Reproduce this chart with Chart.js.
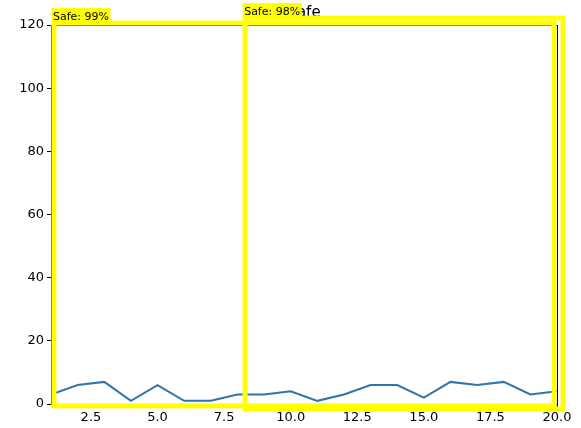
<!DOCTYPE html>
<html>
<head>
<meta charset="utf-8">
<script src="https://cdn.jsdelivr.net/npm/chart.js@4/dist/chart.umd.min.js"></script>
<style>
html,body{margin:0;padding:0;background:#fff;}
#wrap{width:581px;height:428px;position:relative;}
</style>
</head>
<body>
<div id="wrap"><canvas id="c" width="581" height="428"></canvas></div>
<script>
const xValues = [1,2,3,4,5,6,7,8,9,10,11,12,13,14,15,16,17,18,19,20];
const yValues = [3,6,7,1,6,1,1,3,3,4,1,3,6,6,2,7,6,7,3,4];
const xTickValues = [2.5,5,7.5,10,12.5,15,17.5,20];
const yTickValues = [0,20,40,60,80,100,120];
const titleText = 'Safe';
const boxLabels = ['Safe: 99%','Safe: 98%'];
const boxX0 = [1.11, 8.29];
const boxX1 = [19.89, 20.23];
const boxY0 = [-0.6, -1.6];
const boxY1 = [120.6, 122.2];

const overlay = {
  id:'overlay',
  afterDraw(chart){
    const ctx = chart.ctx, xs = chart.scales.x, ys = chart.scales.y, ca = chart.chartArea;
    ctx.save();
    // frame (all four spines)
    ctx.strokeStyle = '#000'; ctx.lineWidth = 1;
    ctx.strokeRect(Math.round(ca.left)+0.5, Math.round(ca.top)+0.5, Math.round(ca.right-ca.left), Math.round(ca.bottom-ca.top));
    // title
    ctx.fillStyle = '#000';
    ctx.font = '15px "DejaVu Sans"';
    ctx.textAlign = 'center'; ctx.textBaseline = 'alphabetic';
    ctx.fillText(titleText, (ca.left+ca.right)/2, 17);
    // boxes
    for (let i=0;i<boxLabels.length;i++){
      const l = xs.getPixelForValue(boxX0[i]), r = xs.getPixelForValue(boxX1[i]);
      const t = ys.getPixelForValue(boxY1[i]), b = ys.getPixelForValue(boxY0[i]);
      ctx.strokeStyle = '#ffff00'; ctx.lineWidth = 5;
      ctx.strokeRect(l, t, r-l, b-t);
      ctx.font = '11px "DejaVu Sans"';
      const w = ctx.measureText(boxLabels[i]).width + 3;
      ctx.fillStyle = '#ffff00';
      ctx.fillRect(l-2.5, t-15, w, 15);
      ctx.fillStyle = '#000';
      ctx.textAlign = 'left'; ctx.textBaseline = 'alphabetic';
      ctx.fillText(boxLabels[i], l-1, t-3);
    }
    ctx.restore();
  }
};

new Chart(document.getElementById('c'), {
  type:'line',
  data:{
    labels: xValues,
    datasets:[{
      data: xValues.map((x,i)=>({x:x,y:yValues[i]})),
      borderColor:'#3274a8',
      borderWidth:2,
      pointRadius:0,
      tension:0,
      fill:false
    }]
  },
  options:{
    responsive:false,
    animation:false,
    devicePixelRatio:1,
    layout:{padding:{left:0,right:24,top:25,bottom:0}},
    plugins:{legend:{display:false},tooltip:{enabled:false},title:{display:false}},
    scales:{
      x:{
        type:'linear', min:1, max:20,
        afterBuildTicks(s){ s.ticks = xTickValues.map(v=>({value:v})); },
        afterFit(s){ s.height = 24; },
        grid:{drawOnChartArea:false, drawTicks:true, tickLength:4, color:'#000'},
        border:{display:true,color:'#000'},
        ticks:{color:'#000', font:{family:'DejaVu Sans', size:13}, padding:2, maxRotation:0,
          callback:(v)=>Number(v).toFixed(1)}
      },
      y:{
        type:'linear', min:0, max:120,
        afterBuildTicks(s){ s.ticks = yTickValues.map(v=>({value:v})); },
        afterFit(s){ s.width = 51; },
        grid:{drawOnChartArea:false, drawTicks:true, tickLength:4, color:'#000'},
        border:{display:true,color:'#000'},
        ticks:{color:'#000', font:{family:'DejaVu Sans', size:13}, padding:3}
      }
    }
  },
  plugins:[overlay]
});
</script>
</body>
</html>
